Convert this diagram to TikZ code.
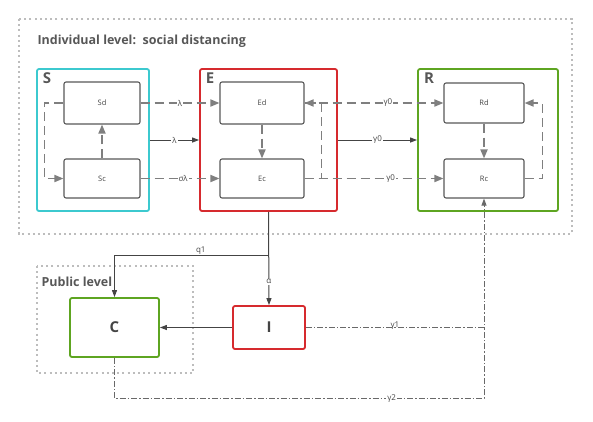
\documentclass[tikz,border=0pt]{standalone}
\usepackage{fontspec}
\setmainfont{Open Sans}
\usetikzlibrary{arrows.meta}
\definecolor{cy}{HTML}{3CC9CF}
\definecolor{rd}{HTML}{D62A2E}
\definecolor{gn}{HTML}{5EA521}
\definecolor{dk}{HTML}{444444}
\definecolor{gy}{HTML}{7F7F7F}
\definecolor{dt}{HTML}{BDBDBD}
\tikzset{
  grp/.style={draw=#1, line width=1.8pt, rounded corners=2pt, minimum width=10pt},
  inbox/.style={draw=dk!90, line width=1.1pt, rounded corners=2pt, font=\fontsize{7.5}{9}\selectfont, text=dk},
  big/.style={draw=#1, line width=1.8pt, rounded corners=2pt, font=\fontsize{15}{18}\selectfont\bfseries, text=dk},
  dsh/.style={draw=gy, line width=1.7pt, dash pattern=on 9pt off 5pt, -{Triangle[length=9pt,width=7pt]}},
  sol/.style={draw=dk, line width=1pt, -{Triangle[length=7pt,width=5pt]}},
  dd/.style={draw=dk!80, line width=0.9pt, dash pattern=on 6pt off 2pt on 1.5pt off 2pt},
  lbl/.style={fill=white, inner sep=1pt, font=\fontsize{8}{9}\selectfont, text=dk},
  dots/.style={draw=dt, line width=2pt, dash pattern=on 2pt off 3.2pt},
  ttl/.style={font=\fontsize{12.5}{14}\selectfont\bfseries, text=dk!90, anchor=west},
  glet/.style={font=\fontsize{15}{18}\selectfont\bfseries, text=dk!90}
}
\begin{document}
\begin{tikzpicture}[x=1pt,y=-1pt]
\useasboundingbox (0,0) rectangle (593,421);
% outer dotted frames
\draw[dots] (19,19) rectangle (572,234);
\draw[dots] (37,266) rectangle (193,373);
\node[ttl] (t1) at (34,41) {Individual level:\ \ social distancing};
\node[ttl] (t2) at (38,282) {Public level};
% group boxes
\node[grp=cy, minimum width=112pt, minimum height=142pt] (S) at (93,140) {};
\node[grp=rd, minimum width=137pt, minimum height=142pt] (E) at (268.5,140) {};
\node[grp=gn, minimum width=140pt, minimum height=142pt] (R) at (488,140) {};
\node[glet] (Sl) at (47,78) {S};
\node[glet] (El) at (210,78) {E};
\node[glet] (Rl) at (429,78) {R};
% inner boxes
\node[inbox, minimum width=76pt, minimum height=42pt] (Sd) at (102,103) {Sd};
\node[inbox, minimum width=76pt, minimum height=39pt] (Sc) at (102,178.5) {Sc};
\node[inbox, minimum width=84pt, minimum height=42pt] (Ed) at (262,103) {Ed};
\node[inbox, minimum width=84pt, minimum height=39pt] (Ec) at (262,178.5) {Ec};
\node[inbox, minimum width=80pt, minimum height=40pt] (Rd) at (484,103) {Rd};
\node[inbox, minimum width=80pt, minimum height=39pt] (Rc) at (484,178.5) {Rc};
% public level
\node[big=gn, minimum width=89pt, minimum height=59pt] (C) at (114.5,327.5) {C};
\node[big=rd, minimum width=72pt, minimum height=43pt] (I) at (269,327.5) {I};
% dashed connectors
\draw[dsh] (Sc.north) -- (Sd.south);
\draw[dsh] (Sd.west) -- ++(-19,0) |- (Sc.west);
\draw[dsh] (Sd.east) -- node[lbl]{λ} (Sd.east -| Ed.west);
\draw[dsh] (Sc.east) -- node[lbl, pos=0.54]{σλ} (Sc.east -| Ec.west);
\draw[dsh] (Ed.south) -- (Ec.north);
\draw[dsh] (Ec.east) -- ++(17,0) |- (Ed.east);
\draw[dsh] (Ed.east) -- node[lbl, pos=0.6]{γ0} (Ed.east -| Rd.west);
\draw[dsh] (Ec.east) -- node[lbl, pos=0.62]{γ0} (Ec.east -| Rc.west);
\draw[dsh] (Rd.south) -- (Rc.north);
\draw[dsh] (Rc.east) -- ++(18,0) |- (Rd.east);
% solid connectors
\draw[sol] (S.east) -- node[lbl]{λ} (E.west);
\draw[sol] (E.east) -- node[lbl]{γ0} (R.west);
\coordinate (J) at (E.south |- 0,255);
\draw[sol] (E.south) -- node[lbl, pos=0.75]{α} (I.north);
\draw[sol] (J) -| node[pos=0.22, above=-1pt, inner sep=1pt, font=\fontsize{8}{9}\selectfont, text=dk]{q1} (C.north);
\draw[sol] (I.west) -- (C.east);
% dash-dot connectors
\coordinate (K) at (Rc.south |- I.east);
\draw[dd, -{Triangle[length=7pt,width=5pt]}] (I.east) -| node[pos=0.25, above=-3pt, inner sep=1pt, font=\fontsize{8}{9}\selectfont, text=dk]{γ1} (Rc.south);
\draw[dd] (C.south) -- ++(0,41) -| node[pos=0.375, lbl]{γ2} (K);
\end{tikzpicture}
\end{document}
